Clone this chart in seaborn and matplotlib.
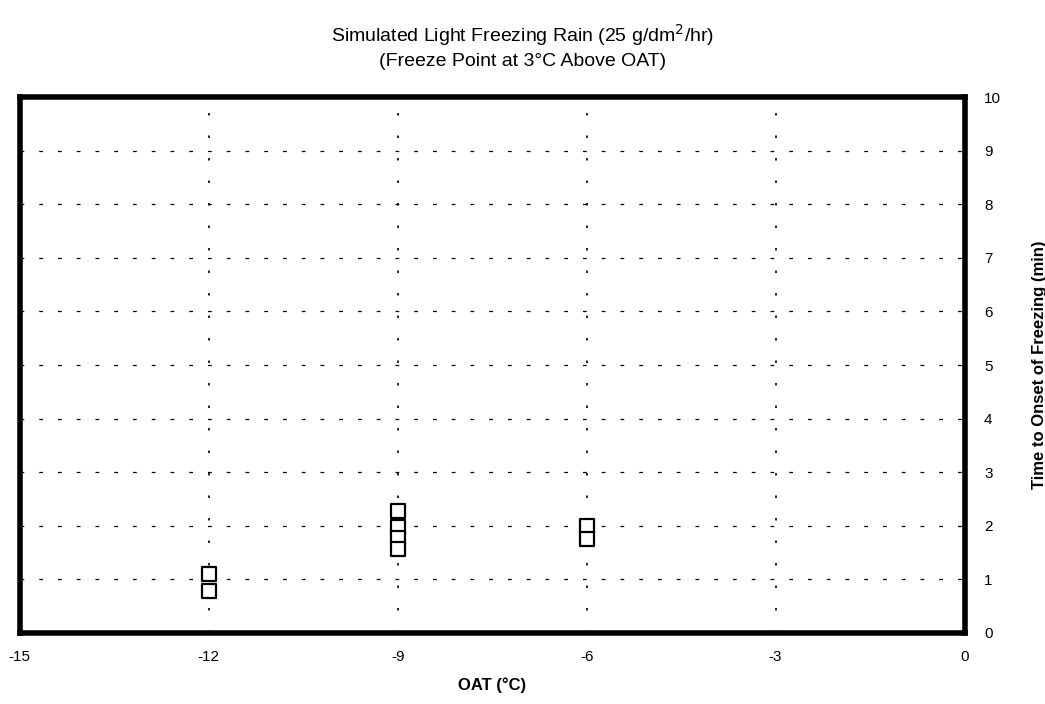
import pandas as pd
import seaborn as sns
import matplotlib.pyplot as plt

# OAT (deg C) and time to onset of freezing (min)
oat = [-12, -12, -9, -9, -9, -9, -6, -6]
onset_time = [1.1, 0.78, 2.27, 1.98, 1.78, 1.57, 2.0, 1.75]

x_ticks = [-15, -12, -9, -6, -3, 0]
y_ticks = list(range(0, 11))

df = pd.DataFrame({'OAT': oat, 'Time': onset_time})

sns.set_style('white')
plt.rcParams['font.family'] = ['Liberation Sans', 'DejaVu Sans']
plt.rcParams['axes.unicode_minus'] = False
plt.rcParams['text.color'] = 'black'
plt.rcParams['axes.labelcolor'] = 'black'
plt.rcParams['xtick.color'] = 'black'
plt.rcParams['ytick.color'] = 'black'

fig = plt.figure(figsize=(10.45, 7.04), dpi=100)
ax = fig.add_axes([0.019, 0.101, 0.904, 0.761])

sns.scatterplot(data=df, x='OAT', y='Time', marker='s', s=100,
                facecolor='white', edgecolor='black', linewidth=1.6,
                ax=ax, zorder=3)

ax.set_xlim(-15, 0)
ax.set_ylim(0, 10)
ax.set_xticks(x_ticks)
ax.set_yticks(y_ticks)

# gridlines: dotted verticals, dashed horizontals
for xv in x_ticks[1:-1]:
    ax.axvline(xv, color='black', linestyle=(0, (1.5, 12)), linewidth=1.2, zorder=1)
for yv in y_ticks[1:-1]:
    ax.axhline(yv, color='black', linestyle=(0, (3, 12)), linewidth=0.9, zorder=1)

for sp in ax.spines.values():
    sp.set_visible(True)
    sp.set_color('black')
    sp.set_linewidth(4)

ax.yaxis.tick_right()
ax.yaxis.set_label_position('right')
ax.tick_params(axis='both', labelsize=11, length=0, pad=12)
ax.tick_params(axis='y', pad=14)

ax.set_xlabel('OAT (°C)', fontsize=12, fontweight='bold', labelpad=10)
ax.set_ylabel('Time to Onset of Freezing (min)', fontsize=12, fontweight='bold',
              labelpad=22)

fig.text(0.5, 0.95, 'Simulated Light Freezing Rain (25 g/dm$^2$/hr)',
         ha='center', va='center', fontsize=14)
fig.text(0.5, 0.913, '(Freeze Point at 3°C Above OAT)',
         ha='center', va='center', fontsize=14)

fig.savefig('out.png', dpi=100)
